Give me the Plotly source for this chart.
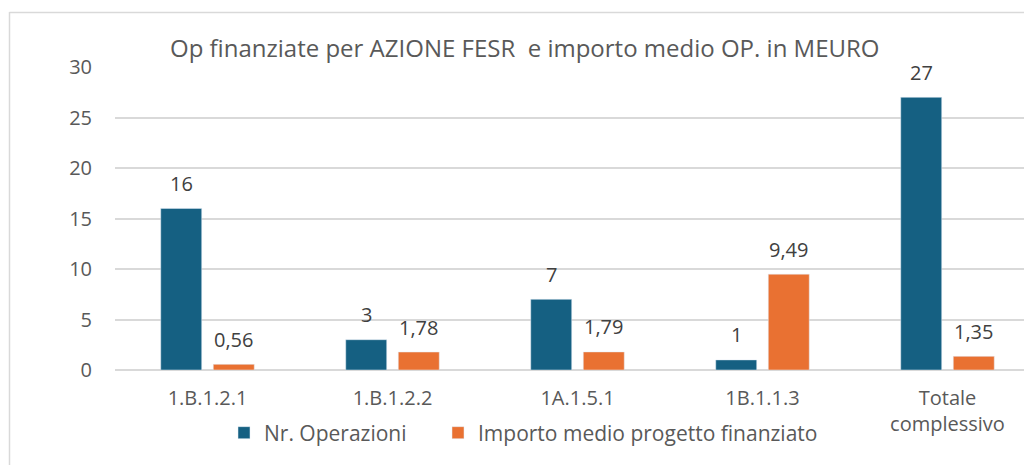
import plotly.graph_objects as go

categories = ["1.B.1.2.1", "1.B.1.2.2", "1A.1.5.1", "1B.1.1.3", "Totale<br>complessivo"]
nr_operazioni = [16, 3, 7, 1, 27]
importo_medio = [0.56, 1.78, 1.79, 9.49, 1.35]
series_names = ["Nr. Operazioni", "Importo medio progetto finanziato"]
title_text = "Op finanziate per AZIONE FESR  e importo medio OP. in MEURO"
y_ticks = [0, 5, 10, 15, 20, 25, 30]

BLUE = "#156082"
ORANGE = "#E97132"
FONT = "Open Sans, sans-serif"
TXT = "#595959"

OFF = 8  # page body margin
W, H = 1032 - OFF, 465 - OFF
L, R, T, B = 115 - OFF, 0, 67 - OFF, 95
pw = W - L - R
ph = H - T - B
base = T + ph  # y pixel (figure coords) of y=0


def px_x(x):  # page pixel -> paper x
    return (x - OFF - L) / pw


def px_y(y):  # page pixel -> paper y
    return (base - (y - OFF)) / ph


fig = go.Figure()
fig.add_trace(go.Bar(x=categories, y=nr_operazioni, name=series_names[0],
                     marker=dict(color=BLUE), legend="legend"))
fig.add_trace(go.Bar(x=categories, y=importo_medio, name=series_names[1],
                     marker=dict(color=ORANGE), legend="legend2"))

annotations = []
for vals, shift in ((nr_operazioni, -26), (importo_medio, 26)):
    for c, v in zip(categories, vals):
        annotations.append(dict(x=c, y=v, xref="x", yref="y", showarrow=False,
                                text=f"{v:g}".replace(".", ","), xshift=shift,
                                yanchor="middle", yshift=25,
                                font=dict(family=FONT, size=20, color="#404040")))

annotations.append(dict(text=title_text, xref="paper", yref="paper",
                        x=px_x(525), y=px_y(47), xanchor="center",
                        yanchor="middle", showarrow=False,
                        font=dict(family=FONT, size=24, color=TXT)))

shapes = [
    dict(type="line", xref="paper", yref="paper",
         x0=px_x(9.5), x1=px_x(9.5), y0=px_y(12), y1=px_y(480),
         line=dict(color="#D9D9D9", width=1.5)),
    dict(type="line", xref="paper", yref="paper",
         x0=px_x(9.5), x1=1.05, y0=px_y(12.5), y1=px_y(12.5),
         line=dict(color="#D9D9D9", width=1.5)),
]

legend_common = dict(orientation="h", xanchor="left", y=px_y(433), yanchor="middle",
                     font=dict(family=FONT, size=21, color=TXT),
                     bgcolor="rgba(0,0,0,0)", itemwidth=30)

fig.update_layout(
    width=W, height=H,
    margin=dict(l=L, r=R, t=T, b=B, pad=0),
    paper_bgcolor="white", plot_bgcolor="white",
    separators=",.",
    barmode="group", bargap=0.432, bargroupgap=0.22,
    font=dict(family=FONT, size=20, color=TXT),
    showlegend=True,
    legend=dict(x=px_x(224), **legend_common),
    legend2=dict(x=px_x(438), **legend_common),
    annotations=annotations,
    shapes=shapes,
    xaxis=dict(range=[-0.5, -0.5 + pw / 185], showgrid=False,
               ticks="outside", ticklen=10, tickcolor="rgba(0,0,0,0)",
               showline=False, zeroline=False,
               tickfont=dict(family=FONT, size=20, color=TXT)),
    yaxis=dict(range=[0, 30], tickvals=y_ticks, showgrid=True, gridcolor="#D9D9D9",
               gridwidth=1.5, zeroline=True, zerolinecolor="#D9D9D9", zerolinewidth=1.5,
               showline=False, ticks="outside", ticklen=18, tickcolor="rgba(0,0,0,0)",
               tickfont=dict(family=FONT, size=20, color=TXT)),
)

fig.write_html("out.html")
